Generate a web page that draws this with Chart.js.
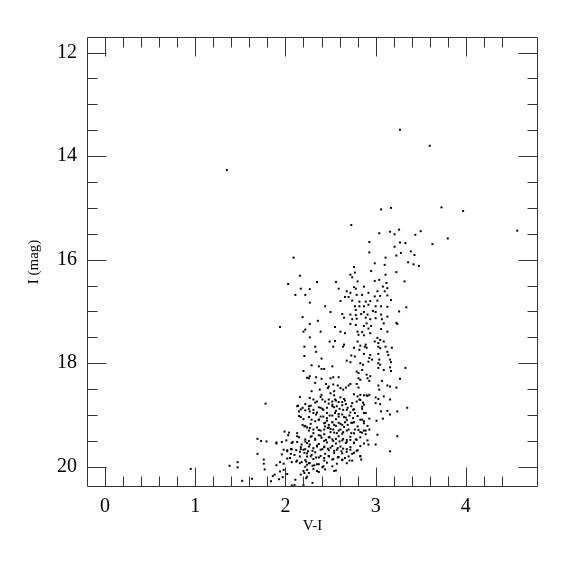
<!DOCTYPE html>
<html>
<head>
<meta charset="utf-8">
<script src="https://cdn.jsdelivr.net/npm/chart.js@4.4.1/dist/chart.umd.min.js"></script>
<style>
  html, body { margin: 0; padding: 0; background: #fff; }
  #cmd { display: block; }
</style>
</head>
<body>
<canvas id="cmd" width="575" height="575"></canvas>
<script>
// tick labels
var xTickValues = [0, 1, 2, 3, 4];
var yTickValues = [12, 14, 16, 18, 20];

// stars, [V-I, I]
var brightStars = [
  [1.35,14.27],[3.27,13.49],[3.60,13.80],[3.06,15.03],[3.17,15.00],[3.73,14.99],[3.97,15.06],
  [2.73,15.33],[4.57,15.44],[3.04,15.49],[3.16,15.46],[3.21,15.51],[3.26,15.42],[3.44,15.52],
  [3.50,15.45],[3.80,15.59]
];

var upperBranch = [
  [3.63,15.70],[2.93,15.66],[3.21,15.75],[3.27,15.67],[3.33,15.68],[2.93,15.86],[3.11,15.96],
  [3.23,15.92],[3.28,15.87],[3.39,15.84],[3.43,15.91],[2.99,16.07],[3.10,16.10],[3.36,16.05],
  [3.42,16.09],[3.48,16.12],[2.76,16.14],[2.77,16.25],[2.95,16.22],[3.11,16.29],[3.23,16.24],
  [2.72,16.29],[2.74,16.34],[2.09,15.96],[2.16,16.31],[2.03,16.47],[2.17,16.56],[2.11,16.68],
  [2.22,16.68],[2.35,16.43],[2.56,16.43],[2.80,16.42],[2.99,16.41],[3.04,16.39],[3.12,16.45],
  [3.32,16.42],[2.27,16.57],[2.59,16.56],[2.76,16.53],[2.78,16.56],[2.87,16.52],[3.08,16.52],
  [3.13,16.55],[2.68,16.61],[2.72,16.64],[3.02,16.61],[3.10,16.61],[2.66,16.72],[2.70,16.72],
  [2.79,16.68],[2.85,16.68],[2.92,16.64],[2.99,16.71],[3.05,16.70],[3.13,16.69],[2.61,16.80],
  [2.74,16.79],[2.82,16.81],[2.89,16.81],[2.94,16.80],[3.02,16.79],[3.17,16.78],[2.27,16.83]
];

var midBranch = [
  [2.44,16.90],[2.77,16.90],[2.82,16.90],[2.87,16.90],[2.92,16.87],[3.00,16.90],[3.06,16.90],
  [3.13,16.91],[3.34,16.92],[2.50,17.01],[2.78,16.97],[2.87,17.01],[2.97,16.99],[3.00,17.01],
  [3.26,17.00],[2.63,17.05],[2.72,17.06],[2.78,17.07],[2.84,17.05],[2.91,17.06],[3.06,17.06],
  [3.13,17.10],[2.65,17.12],[2.74,17.15],[2.79,17.14],[2.89,17.12],[2.94,17.15],[3.00,17.13],
  [3.07,17.15],[2.36,17.18],[2.72,17.24],[2.78,17.26],[2.90,17.23],[2.95,17.28],[3.09,17.23],
  [3.23,17.22],[3.24,17.24],[2.55,17.30],[2.87,17.28],[2.92,17.33],[3.06,17.34],[2.39,17.39],
  [2.61,17.39],[2.66,17.42],[2.80,17.39],[2.85,17.40],[2.94,17.42],[3.13,17.39],[2.81,17.45],
  [2.87,17.46],[3.02,17.51],[3.05,17.55],[2.27,17.50],[2.49,17.58],[2.55,17.57],[2.65,17.64],
  [2.80,17.58],[2.83,17.66],[2.89,17.64],[2.99,17.58],[3.03,17.61],[3.09,17.58],[2.76,17.70],
  [2.19,17.11],[2.27,17.24],[1.94,17.30],[2.22,17.35],[2.20,17.39],[2.21,17.68],[2.33,17.68],
  [2.21,17.86],[2.53,17.68],[2.64,17.68],[2.82,17.74],[2.88,17.68],[2.90,17.70],[3.03,17.68],
  [3.05,17.71],[3.11,17.68],[3.18,17.70],[2.34,17.78],[2.73,17.85],[2.77,17.87],[2.87,17.82],
  [2.94,17.84],[2.93,17.90],[2.96,17.93],[3.03,17.82],[3.04,17.93],[3.14,17.84],[3.16,17.93],
  [3.13,17.78],[2.40,17.91],[2.68,17.95],[2.72,17.98],[2.92,17.97],[3.17,17.98]
];

var lowerBranch = [
  [2.83,18.00],[2.86,18.03],[3.03,18.00],[3.05,18.03],[2.29,18.04],[2.37,18.06],[2.40,18.11],
  [2.52,18.06],[2.43,18.11],[2.79,18.16],[2.81,18.19],[2.85,18.13],[2.90,18.22],[2.94,18.25],
  [3.03,18.09],[3.09,18.13],[3.16,18.08],[3.17,18.15],[3.33,18.09],[2.27,18.25],[2.34,18.27],
  [2.40,18.30],[2.50,18.29],[2.53,18.27],[2.59,18.27],[2.81,18.29],[2.83,18.32],[2.91,18.29],
  [2.93,18.34],[3.07,18.34],[3.27,18.30],[2.33,18.38],[2.45,18.40],[2.48,18.45],[2.47,18.48],
  [2.53,18.41],[2.58,18.43],[2.79,18.40],[2.81,18.47],[3.03,18.43],[3.04,18.51],[3.13,18.43],
  [3.16,18.45],[3.23,18.47],[2.61,18.48],[2.64,18.51],[2.67,18.47],[2.70,18.43],[2.72,18.40],
  [2.29,18.54],[2.38,18.51],[2.40,18.61],[2.50,18.58],[2.54,18.54],[2.76,18.60],[2.83,18.61],
  [2.87,18.62],[2.90,18.62],[2.93,18.61],[3.00,18.66],[3.03,18.69],[3.09,18.64],[3.16,18.70],
  [2.27,18.67],[2.31,18.70],[2.35,18.74],[2.44,18.74],[2.48,18.70],[2.52,18.74],[2.55,18.70],
  [2.63,18.75],[2.66,18.72],[2.79,18.74],[2.82,18.70],[2.87,18.80],[3.00,18.77],[3.05,18.79],
  [2.39,18.86],[2.42,18.90],[2.46,18.86],[2.52,18.80],[2.54,18.85],[2.57,18.83],[2.60,18.88],
  [2.64,18.90],[2.69,18.86],[2.73,18.83],[2.75,18.90],[2.85,18.88],[2.87,18.96],[3.06,18.93],
  [3.13,18.92],[3.16,18.99],[3.35,18.86],[3.24,18.93],[2.27,18.93],[2.31,18.96],[2.34,18.99],
  [2.55,18.96],[2.63,18.99],[2.77,18.96],[2.20,18.15],[2.24,18.28],[2.26,18.29],[2.16,18.65],
  [1.78,18.78],[2.13,18.83],[2.14,18.82],[2.19,18.86],[2.22,18.79],[2.26,18.83],[2.26,18.88],
  [2.15,18.93]
];

var clumpStars = [
  [2.17,19.04],[2.15,19.02],[2.19,19.19],[2.21,19.22],[2.24,19.24],[1.99,19.32],[2.04,19.34],
  [2.03,19.39],[2.13,19.35],[2.13,19.41],[1.69,19.46],[1.73,19.50],[1.79,19.51],[1.90,19.53],
  [1.90,19.55],[1.96,19.52],[2.01,19.49],[2.07,19.54],[2.08,19.52],[2.13,19.52],[2.18,19.57],
  [2.22,19.51],[2.26,19.50],[1.98,19.67],[2.02,19.68],[2.06,19.66],[2.07,19.66],[2.12,19.68],
  [2.16,19.71],[2.17,19.66],[2.22,19.66],[2.25,19.70],[1.69,19.75],[1.96,19.76],[2.02,19.70],
  [2.06,19.75],[2.10,19.77],[2.16,19.80],[2.21,19.73],[2.24,19.80],[2.02,19.84],[2.05,19.83],
  [2.07,19.91],[1.76,19.86],[1.94,19.91],[1.98,19.94],[2.12,19.90],[2.16,19.93],[2.18,19.91],
  [2.23,19.90],[2.24,19.96],[1.38,19.98],[1.47,19.91],[1.47,20.01],[1.76,19.94],[1.77,20.05],
  [1.90,19.97],[1.94,20.09],[1.98,20.06],[2.02,20.14],[1.88,20.15],[1.84,20.28],[1.86,20.18],
  [1.93,20.24],[1.97,20.20],[1.52,20.27],[1.63,20.23],[2.11,20.25],[2.10,20.35],[2.20,20.08],
  [2.21,20.12],[2.17,20.15],[2.23,20.22],[2.24,20.19],[2.20,20.35],[2.07,20.36],[0.95,20.04],
  [2.49,19.01],[2.46,19.06],[2.42,19.03],[2.59,19.03],[2.67,19.05],[2.71,19.01],[2.75,19.06],
  [2.85,19.09],[2.87,19.12],[2.93,19.07],[3.01,19.11],[3.08,19.07],[2.29,19.09],[2.33,19.12],
  [2.37,19.09],[2.44,19.15],[2.48,19.19],[2.52,19.14],[2.54,19.19],[2.59,19.15],[2.63,19.19],
  [2.66,19.14],[2.69,19.19],[2.73,19.15],[2.76,19.14],[2.27,19.25],[2.31,19.28],[2.35,19.24],
  [2.39,19.30],[2.43,19.28],[2.47,19.25],[2.50,19.33],[2.53,19.28],[2.57,19.35],[2.61,19.28],
  [2.64,19.33],[2.68,19.30],[2.73,19.35],[2.77,19.28],[2.83,19.33],[2.87,19.30],[2.89,19.37],
  [2.93,19.28],[3.02,19.38],[3.24,19.41],[2.29,19.41],[2.33,19.46],[2.37,19.39],[2.40,19.44],
  [2.45,19.48],[2.49,19.43],[2.53,19.50],[2.56,19.46],[2.60,19.51],[2.64,19.46],[2.68,19.52],
  [2.72,19.48],[2.76,19.54],[2.79,19.48],[2.92,19.57],[3.00,19.57],[2.27,19.57],[2.31,19.64],
  [2.35,19.61],[2.39,19.67],[2.43,19.61],[2.47,19.65],[2.50,19.63],[2.54,19.69],[2.58,19.64],
  [2.62,19.70],[2.64,19.65],[2.68,19.71],[2.72,19.67],[2.76,19.73],[2.79,19.69],[2.83,19.80],
  [2.84,19.86],[3.16,19.70],[2.29,19.77],[2.34,19.82],[2.39,19.79],[2.43,19.83],[2.48,19.80],
  [2.53,19.85],[2.58,19.82],[2.63,19.86],[2.66,19.83],[2.71,19.88],[2.27,19.93],[2.32,19.97],
  [2.37,19.95],[2.42,19.99],[2.54,20.08],[2.31,20.04],[2.35,20.08],[2.30,20.31]
];

// the densest part of the clump, read from a close-up
var clumpCore = [
  [2.39,18.65],[2.54,18.62],[2.61,18.66],[2.80,18.64],[2.91,18.63],
  [2.41,18.70],[2.56,18.72],[2.65,18.69],[2.83,18.71],
  [2.33,18.76],[2.48,18.78],[2.59,18.75],[2.67,18.79],[2.74,18.77],[2.86,18.76],
  [2.28,18.82],[2.37,18.85],[2.52,18.83],[2.63,18.81],[2.85,18.84],
  [2.17,18.89],[2.22,18.91],[2.31,18.90],[2.41,18.88],[2.56,18.92],[2.68,18.90],[2.76,18.89],
  [2.35,18.95],[2.46,18.96],[2.59,18.98],[2.72,18.95],[2.89,18.96],
  [2.26,19.04],[2.39,19.03],[2.52,19.01],[2.65,19.04],[2.80,19.02],
  [2.20,19.08],[2.37,19.09],[2.46,19.11],[2.56,19.08],[2.68,19.10],[2.83,19.09],
  [2.28,19.17],[2.43,19.16],[2.52,19.14],[2.61,19.17],[2.74,19.15],[2.87,19.16],
  [2.22,19.21],[2.44,19.22],[2.48,19.24],[2.56,19.21],[2.65,19.23],[2.80,19.22],[2.91,19.21],
  [2.26,19.30],[2.37,19.29],[2.50,19.27],[2.59,19.30],[2.70,19.28],[2.81,19.29],[2.89,19.30],
  [2.31,19.35],[2.43,19.37],[2.54,19.34],[2.63,19.36],[2.76,19.35],[2.85,19.34],
  [2.15,19.43],[2.28,19.42],[2.39,19.40],[2.48,19.43],[2.59,19.41],[2.72,19.42],[2.83,19.43],
  [2.22,19.47],[2.33,19.48],[2.43,19.50],[2.52,19.47],[2.63,19.49],[2.68,19.48],[2.78,19.47],[2.91,19.49],
  [2.24,19.54],[2.37,19.56],[2.46,19.53],[2.56,19.55],[2.67,19.54],[2.76,19.53],[2.87,19.55],
  [2.17,19.62],[2.26,19.61],[2.35,19.59],[2.43,19.62],[2.52,19.60],[2.61,19.61],[2.72,19.62],[2.83,19.60],
  [2.20,19.67],[2.30,19.69],[2.41,19.66],[2.48,19.68],[2.57,19.67],[2.68,19.66],[2.80,19.68],
  [2.24,19.74],[2.33,19.72],[2.44,19.75],[2.54,19.73],[2.63,19.74],[2.74,19.75],
  [2.28,19.80],[2.37,19.82],[2.48,19.79],[2.59,19.81],[2.70,19.80],[2.83,19.79],
  [2.13,19.88],[2.22,19.87],[2.31,19.85],[2.43,19.88],[2.52,19.86],[2.63,19.87],[2.74,19.88],
  [2.26,19.93],[2.35,19.95],[2.46,19.92],[2.57,19.94],[2.68,19.93],
  [2.22,20.00],[2.30,19.98],[2.41,20.01],[2.52,19.99],
  [2.24,20.06],[2.35,20.08],[2.44,20.05],[2.56,20.07],
  [2.26,20.12],[2.37,20.10]
];

var allStars = brightStars.concat(upperBranch, midBranch, lowerBranch, clumpStars, clumpCore);
var points = allStars.map(function (s) { return { x: s[0], y: s[1] }; });

var serif = "'Liberation Serif', 'DejaVu Serif', serif";

// frame with inward ticks on all four sides
var frameTicks = {
  id: 'frameTicks',
  afterDatasetsDraw: function (chart) {
    var ctx = chart.ctx, a = chart.chartArea;
    var xs = chart.scales.x, ys = chart.scales.y;
    var L = Math.round(a.left) + 0.5, R = Math.round(a.right) - 0.5;
    var T = Math.round(a.top) + 0.5, B = Math.round(a.bottom) - 0.5;
    ctx.save();
    ctx.strokeStyle = '#333';
    ctx.lineWidth = 1;
    ctx.beginPath();
    ctx.rect(L, T, R - L, B - T);
    for (var i = 1; i < 24; i++) {
      var v = -0.2 + i * 0.2;
      var len = (i % 5 === 1) ? 19 : 10;
      var px = Math.round(xs.getPixelForValue(v)) + 0.5;
      ctx.moveTo(px, B); ctx.lineTo(px, B - len);
      ctx.moveTo(px, T); ctx.lineTo(px, T + len);
    }
    for (var j = 0; j <= 16; j++) {
      var m = 12 + j * 0.5;
      var ylen = (j % 4 === 0) ? 19 : 10;
      var py = Math.round(ys.getPixelForValue(m)) + 0.5;
      ctx.moveTo(L, py); ctx.lineTo(L + ylen, py);
      ctx.moveTo(R, py); ctx.lineTo(R - ylen, py);
    }
    ctx.stroke();
    ctx.restore();
  }
};

var ctx = document.getElementById('cmd').getContext('2d');
var cmdChart = new Chart(ctx, {
  type: 'scatter',
  data: {
    datasets: [{
      data: points,
      pointStyle: 'rect',
      pointRadius: 1.4,
      pointBackgroundColor: '#000',
      pointBorderWidth: 0
    }]
  },
  options: {
    responsive: false,
    animation: false,
    layout: { padding: { top: 37, right: 37, left: 0, bottom: 0 } },
    plugins: { legend: { display: false }, tooltip: { enabled: false } },
    scales: {
      x: {
        type: 'linear',
        min: -0.2,
        max: 4.8,
        grid: { display: false, drawTicks: false },
        border: { display: false },
        afterBuildTicks: function (s) { s.ticks = xTickValues.map(function (v) { return { value: v }; }); },
        afterFit: function (s) { s.height = 88; },
        ticks: { color: '#000', padding: 8, maxRotation: 0, font: { family: serif, size: 20 } },
        title: { display: true, text: 'V-I', color: '#000', padding: { bottom: 40 }, font: { family: serif, size: 15 } }
      },
      y: {
        type: 'linear',
        reverse: true,
        min: 11.7,
        max: 20.39,
        grid: { display: false, drawTicks: false },
        border: { display: false },
        afterBuildTicks: function (s) { s.ticks = yTickValues.map(function (v) { return { value: v }; }); },
        afterFit: function (s) { s.width = 87; },
        ticks: { color: '#000', padding: 10, font: { family: serif, size: 20 } },
        title: { display: true, text: 'I (mag)', color: '#000', padding: { top: 25 }, font: { family: serif, size: 15 } }
      }
    }
  },
  plugins: [frameTicks]
});
</script>
</body>
</html>
